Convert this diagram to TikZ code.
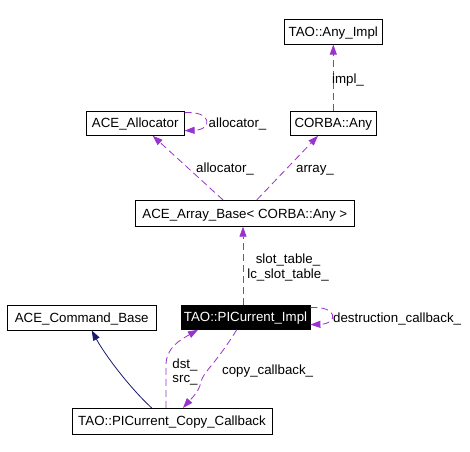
\documentclass[tikz,border=0pt]{standalone}
\usepackage{fontspec}
\setmainfont{Liberation Sans}
\usetikzlibrary{arrows.meta,calc}
\definecolor{edgepurple}{HTML}{9A32CD}
\definecolor{edgenavy}{HTML}{191970}
\begin{document}
\begin{tikzpicture}[x=1pt,y=-1pt,
  every node/.style={font=\fontsize{13.3}{16}\selectfont},
  box/.style={draw=black, line width=0.8pt, inner sep=0pt, text height=9.5pt, text depth=0pt},
  lbl/.style={inner sep=0pt, text height=9.5pt, text depth=0pt},
  dep/.style={draw=edgepurple, line width=0.8pt, dash pattern=on 7pt off 4pt, -{Triangle[length=10pt,width=7pt]}},
  inh/.style={draw=edgenavy, line width=0.8pt, -{Triangle[length=10pt,width=7pt]}}]
\fill[white] (0,0) rectangle (470,451);
\useasboundingbox (0,0) rectangle (470,451);
% nodes
\node[box, minimum width=98pt, minimum height=25pt] (anyimpl) at (333.3,31.7) {TAO::Any\_Impl};
\node[box, minimum width=98pt, minimum height=24.3pt] (alloc) at (135.2,123.2) {ACE\_Allocator};
\node[box, minimum width=86pt, minimum height=24.3pt] (corba) at (333.3,123.2) {CORBA::Any};
\node[box, minimum width=219pt, minimum height=26pt] (arraybase) at (244.8,213.3) {ACE\_Array\_Base\textless{} CORBA::Any \textgreater};
\node[box, minimum width=149pt, minimum height=25pt] (cmdbase) at (81.7,317.5) {ACE\_Command\_Base};
\node[box, fill=black, text=white, minimum width=129pt, minimum height=24.3pt] (impl) at (245.5,317.2) {TAO::PICurrent\_Impl};
\node[box, minimum width=200pt, minimum height=25.7pt] (copycb) at (172,421.2) {TAO::PICurrent\_Copy\_Callback};
% edges
\draw[dep] (corba.north) -- (anyimpl.south);
\node[lbl] (limpl) at (348,79) {impl\_};
\draw[dep] ($(alloc.north east)+(0,2)$) .. controls ($(alloc.north east)+(28,0)$) and ($(alloc.north east)+(28,19)$) .. ($(alloc.north east)+(0,20)$);
\node[lbl, anchor=west] (lalloc1) at (208.5,123) {allocator\_};
\draw[dep] ($(arraybase.north)+(-21.8,0)$) -- ($(alloc.south)+(17.5,0)$);
\node[lbl] (lalloc2) at (225,168) {allocator\_};
\draw[dep] ($(arraybase.north)+(12,0)$) -- ($(corba.south)+(-15.3,0)$);
\node[lbl] (larray) at (315,168) {array\_};
\draw[dep] ($(impl.north)+(-2.5,0)$) -- ($(arraybase.south)+(-1.8,0)$);
\node[lbl, align=center] (lslot) at (288,259) {slot\_table\_};
\node[lbl, align=center] (llcslot) at (288,273.3) {lc\_slot\_table\_};
\draw[dep] ($(impl.north east)+(0,3)$) .. controls ($(impl.north east)+(28,1)$) and ($(impl.north east)+(28,19)$) .. ($(impl.north east)+(0,20)$);
\node[lbl, anchor=west] (ldestr) at (333,318) {destruction\_callback\_};
\draw[inh] ($(copycb.north)+(-20.3,0)$) .. controls (130,388) and (105,355) .. ($(cmdbase.south)+(10,0)$);
\draw[dep] ($(copycb.north)+(-6,0)$) -- (166,365) .. controls (166,348) and (180,340) .. ($(impl.south)+(-47.5,0)$);
\node[lbl] (ldst) at (185,363.3) {dst\_};
\node[lbl] (lsrc) at (185,377.3) {src\_};
\draw[dep] ($(impl.south)+(-8.8,0)$) .. controls (215,365) and (203,372) .. (201,382) .. controls (199,392) and (190,400) .. ($(copycb.north)+(11,0)$);
\node[lbl, anchor=west] (lcopy) at (222,370) {copy\_callback\_};
\end{tikzpicture}
\end{document}
